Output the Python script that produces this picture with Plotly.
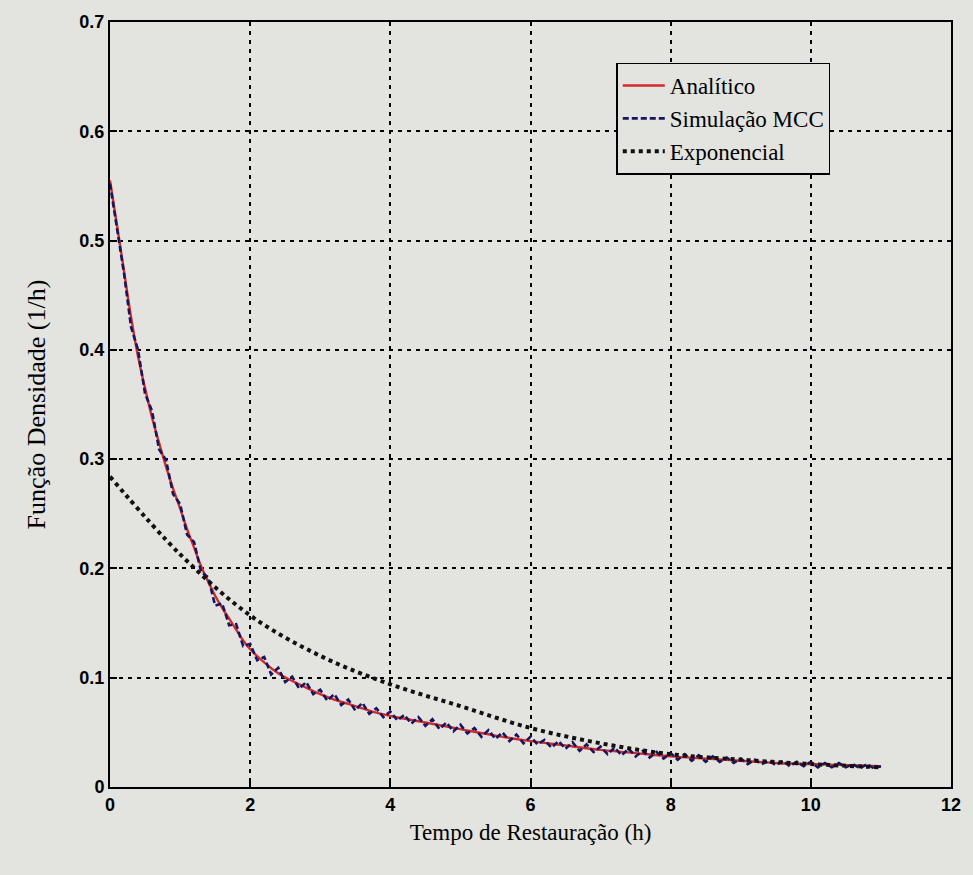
import plotly.graph_objects as go

# ---- data ----
analytic_t = [0.0, 0.1, 0.2, 0.3, 0.4, 0.5, 0.6, 0.7, 0.8, 0.9, 1.0, 1.1, 1.2, 1.3, 1.4,
              1.5, 1.6, 1.7, 1.8, 1.9, 2.0, 2.2, 2.4, 2.6, 2.8, 3.0, 3.2, 3.4, 3.6, 3.8,
              4.0, 4.5, 5.0, 5.5, 6.0, 6.5, 7.0, 7.5, 8.0, 8.5, 9.0, 9.5, 10.0, 10.5, 11.0]
analytic_f = [0.555, 0.514, 0.472, 0.430, 0.394, 0.365, 0.338, 0.315, 0.293, 0.273, 0.255,
              0.236, 0.219, 0.202, 0.188, 0.175, 0.164, 0.154, 0.144, 0.134, 0.126, 0.114,
              0.104, 0.097, 0.091, 0.085, 0.080, 0.076, 0.072, 0.068, 0.065, 0.059, 0.053,
              0.047, 0.042, 0.038, 0.034, 0.031, 0.028, 0.026, 0.024, 0.022, 0.021, 0.020,
              0.019]

sim_t = [round(0.1 * i, 1) for i in range(111)]
sim_f = [0.552, 0.512, 0.470, 0.421, 0.400, 0.360, 0.344, 0.309, 0.299, 0.268,
         0.259, 0.231, 0.224, 0.197, 0.192, 0.166, 0.168, 0.148, 0.149, 0.129,
         0.131, 0.116, 0.119, 0.103, 0.109, 0.096, 0.101, 0.090, 0.096, 0.085,
         0.089, 0.079, 0.085, 0.075, 0.080, 0.070, 0.077, 0.067, 0.072, 0.064,
         0.069, 0.061, 0.066, 0.058, 0.064, 0.056, 0.062, 0.053, 0.059, 0.051,
         0.057, 0.049, 0.054, 0.046, 0.052, 0.044, 0.050, 0.042, 0.048, 0.040,
         0.046, 0.039, 0.043, 0.036, 0.042, 0.035, 0.041, 0.033, 0.039, 0.032,
         0.037, 0.030, 0.036, 0.029, 0.035, 0.028, 0.033, 0.027, 0.032, 0.026,
         0.031, 0.025, 0.030, 0.024, 0.029, 0.023, 0.028, 0.023, 0.027, 0.022,
         0.026, 0.021, 0.025, 0.021, 0.024, 0.020, 0.024, 0.019, 0.023, 0.019,
         0.023, 0.018, 0.022, 0.018, 0.022, 0.018, 0.021, 0.017, 0.021, 0.017,
         0.019]

expo_t = [0, 1, 2, 3, 4, 5, 6, 7, 8, 9, 10, 11]
expo_f = [0.284, 0.213, 0.157, 0.120, 0.094, 0.074, 0.054, 0.040, 0.030, 0.025, 0.021, 0.018]

x_ticks = [0, 2, 4, 6, 8, 10, 12]
y_ticks = [0, 0.1, 0.2, 0.3, 0.4, 0.5, 0.6, 0.7]
y_labels = ["0", "0.1", "0.2", "0.3", "0.4", "0.5", "0.6", "0.7"]

BG = "#e3e3df"
serif = "Liberation Serif"
sans = "Liberation Sans"

fig = go.Figure()
fig.add_trace(go.Scatter(x=analytic_t, y=analytic_f, mode="lines", name="Analítico",
                         line=dict(color="#d42a2a", width=2.4, shape="spline")))
fig.add_trace(go.Scatter(x=sim_t, y=sim_f, mode="lines", name="Simulação MCC",
                         line=dict(color="#16165e", width=2.6, dash="6px,3px")))
fig.add_trace(go.Scatter(x=expo_t, y=expo_f, mode="lines", name="Exponencial",
                         line=dict(color="#111111", width=4, dash="dot", shape="spline")))

axis_common = dict(
    showline=True, linecolor="black", linewidth=2, mirror=True,
    ticks="inside", ticklen=7, tickcolor="black", tickwidth=1.5,
    showgrid=True, gridcolor="black", gridwidth=1.6, griddash="4px,5px",
    zeroline=False,
    tickfont=dict(family=sans, size=18, color="black", weight="bold"),
)

fig.update_xaxes(range=[0, 12], tickvals=x_ticks, ticktext=[str(v) for v in x_ticks],
                 title=dict(text="Tempo de Restauração (h)", standoff=10,
                            font=dict(family=serif, size=23, color="black")),
                 **axis_common)
fig.update_yaxes(range=[0, 0.7], tickvals=y_ticks, ticktext=y_labels,
                 title=dict(text="Função Densidade (1/h)", standoff=26,
                            font=dict(family=serif, size=26, color="black")),
                 **axis_common)

fig.update_layout(
    width=973, height=875,
    margin=dict(l=110, r=16, t=20, b=88),
    paper_bgcolor=BG, plot_bgcolor=BG,
    showlegend=True,
    legend=dict(x=0.602, y=0.947, xanchor="left", yanchor="top",
                bgcolor=BG, bordercolor="black", borderwidth=1.5,
                font=dict(family=serif, size=23, color="black"),
                tracegroupgap=0, itemwidth=42),
)

fig.write_html("out.html")
